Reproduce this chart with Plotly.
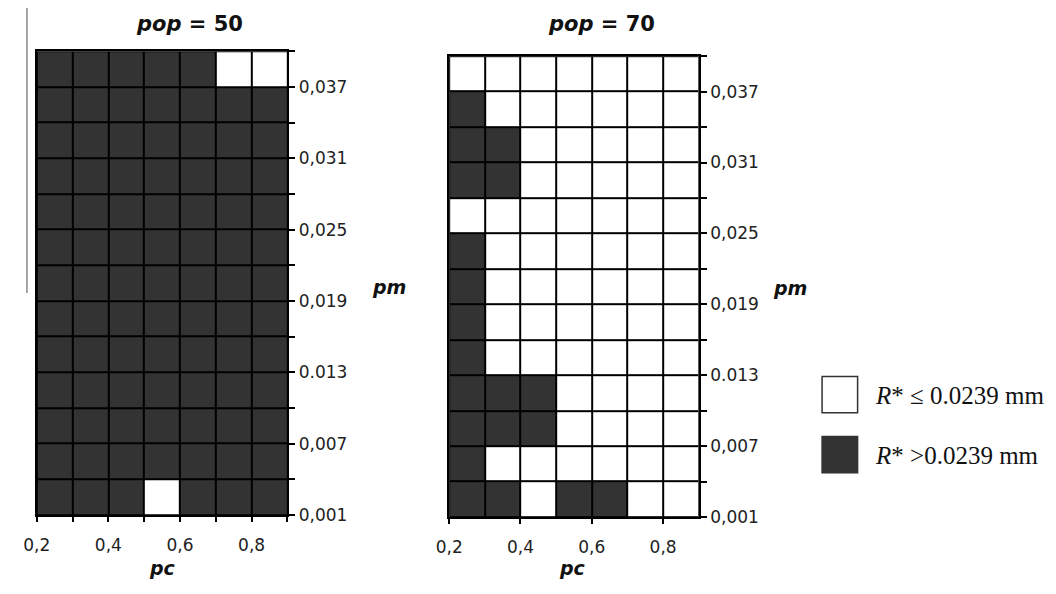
import plotly.graph_objects as go

# ---- data ----
pc_edges = [0.2, 0.3, 0.4, 0.5, 0.6, 0.7, 0.8, 0.9]
pm_edges = [0.001, 0.004, 0.007, 0.010, 0.013, 0.016, 0.019, 0.022,
            0.025, 0.028, 0.031, 0.034, 0.037, 0.040]
x_tick_vals_50 = [0.2, 0.3, 0.4, 0.5, 0.6, 0.7, 0.8, 0.9]
x_tick_text_50 = ["0,2", "", "0,4", "", "0,6", "", "0,8", ""]
x_tick_vals_70 = [0.2, 0.4, 0.6, 0.8]
x_tick_text_70 = ["0,2", "0,4", "0,6", "0,8"]
y_tick_vals = pm_edges
y_tick_text = ["0,001", "", "0,007", "", "0.013", "", "0,019", "",
               "0,025", "", "0,031", "", "0,037", ""]

# 1 = R* > 0.0239 mm (dark), 0 = R* <= 0.0239 mm (white); rows bottom -> top
z_pop50 = [
    [1, 1, 1, 0, 1, 1, 1],
    [1, 1, 1, 1, 1, 1, 1],
    [1, 1, 1, 1, 1, 1, 1],
    [1, 1, 1, 1, 1, 1, 1],
    [1, 1, 1, 1, 1, 1, 1],
    [1, 1, 1, 1, 1, 1, 1],
    [1, 1, 1, 1, 1, 1, 1],
    [1, 1, 1, 1, 1, 1, 1],
    [1, 1, 1, 1, 1, 1, 1],
    [1, 1, 1, 1, 1, 1, 1],
    [1, 1, 1, 1, 1, 1, 1],
    [1, 1, 1, 1, 1, 1, 1],
    [1, 1, 1, 1, 1, 0, 0],
]
z_pop70 = [
    [1, 1, 0, 1, 1, 0, 0],
    [1, 0, 0, 0, 0, 0, 0],
    [1, 1, 1, 0, 0, 0, 0],
    [1, 1, 1, 0, 0, 0, 0],
    [1, 0, 0, 0, 0, 0, 0],
    [1, 0, 0, 0, 0, 0, 0],
    [1, 0, 0, 0, 0, 0, 0],
    [1, 0, 0, 0, 0, 0, 0],
    [0, 0, 0, 0, 0, 0, 0],
    [1, 1, 0, 0, 0, 0, 0],
    [1, 1, 0, 0, 0, 0, 0],
    [1, 0, 0, 0, 0, 0, 0],
    [0, 0, 0, 0, 0, 0, 0],
]
titles = ["<i>pop</i> = 50", "<i>pop</i> = 70"]
legend_labels = ["<i>R</i>* ≤ 0.0239 mm", "<i>R</i>* >0.0239 mm"]

DARK = "#333333"
OFF = 8                      # default page margin around the figure
W, H = 1056 - 2 * OFF, 594 - 2 * OFF
colorscale = [[0, "white"], [0.5, "white"], [0.5, DARK], [1, DARK]]


def px(x):
    return (x - OFF) / W


def py(y):
    return 1 - (y - OFF) / H


fig = go.Figure()
for i, z in enumerate([z_pop50, z_pop70]):
    fig.add_trace(go.Heatmap(
        x=pc_edges, y=pm_edges, z=z, zmin=0, zmax=1,
        colorscale=colorscale, showscale=False, xgap=2, ygap=2,
        xaxis="x" if i == 0 else "x2", yaxis="y" if i == 0 else "y2",
        hoverinfo="skip"))

SANS = "DejaVu Sans, Verdana, sans-serif"
tickfont = dict(family=SANS, size=17, color="#222")


def xax(domain, vals, text):
    return dict(domain=domain, range=[0.2, 0.9], tickvals=vals,
                ticktext=text, ticks="outside", ticklen=5, tickwidth=1.5,
                tickcolor="black", showline=True, linecolor="black", linewidth=2,
                mirror=True, showgrid=False, zeroline=False, tickfont=tickfont,
                ticklabelstandoff=9, fixedrange=True)


def yax(domain, anchor):
    return dict(domain=domain, range=[0.001, 0.040], tickvals=y_tick_vals,
                ticktext=y_tick_text, side="right", anchor=anchor, ticks="outside",
                ticklen=6, tickwidth=1.5, tickcolor="black", showline=True,
                linecolor="black", linewidth=2, mirror=True, showgrid=False,
                zeroline=False, tickfont=tickfont, fixedrange=True)


L1, R1, T1, B1 = 23, 277, 52, 524
L2, R2, T2, B2 = 441, 694, 57, 526

fig.update_layout(
    width=W, height=H, margin=dict(l=0, r=0, t=0, b=0),
    paper_bgcolor="white", plot_bgcolor="black", showlegend=False,
    xaxis=dict(**xax([px(L1), px(R1)], x_tick_vals_50, x_tick_text_50), anchor="y"),
    yaxis=yax([py(B1), py(T1)], "x"),
    xaxis2=dict(**xax([px(L2), px(R2)], x_tick_vals_70, x_tick_text_70), anchor="y2"),
    yaxis2=yax([py(B2), py(T2)], "x2"),
)

ann = []
titlefont = dict(family=SANS, size=21, color="#111")
labfont = dict(family=SANS, size=19, color="#111")


def text_at(x, y, text, font, xanchor="center"):
    return dict(x=px(x), y=py(y), xref="paper", yref="paper", text=text,
                showarrow=False, xanchor=xanchor, yanchor="middle", font=font)


for (cx, title), pcx, (pmx, pmy) in zip([(178, titles[0]), (595, titles[1])],
                                        [150, 566], [(380, 292), (786, 293)]):
    ann.append(text_at(cx, 24, "<b>" + title + "</b>", titlefont))
    ann.append(text_at(pcx, 578, "<b><i>pc</i></b>", labfont))
    ann.append(text_at(pmx, pmy, "<b><i>pm</i></b>", labfont))

shapes = []
legfont = dict(family="Liberation Serif, Times New Roman, serif", size=25, color="#111")
for k, (lab, col) in enumerate(zip(legend_labels, ["white", DARK])):
    y0, y1 = 383 + k * 61, 420 + k * 61
    shapes.append(dict(type="rect", xref="paper", yref="paper",
                       x0=px(819), x1=px(855), y0=py(y1), y1=py(y0),
                       fillcolor=col, line=dict(color="#333", width=1.5)))
    ann.append(text_at(871, (y0 + y1) / 2 + 1, lab, legfont, xanchor="left"))

shapes.append(dict(type="line", xref="paper", yref="paper",
                   x0=px(13), x1=px(13), y0=py(298), y1=1.0,
                   line=dict(color="#888", width=1.5)))

fig.update_layout(annotations=ann, shapes=shapes)
fig.write_html("out.html")
